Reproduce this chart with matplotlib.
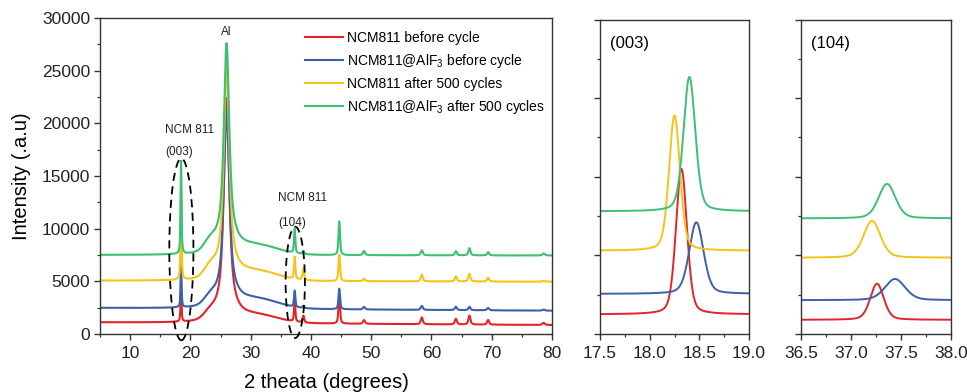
import numpy as np
import matplotlib
matplotlib.use("Agg")
import matplotlib.pyplot as plt
from matplotlib.patches import Ellipse
from matplotlib.ticker import MultipleLocator, NullFormatter

plt.rcParams['font.family'] = ['Liberation Sans', 'DejaVu Sans']
plt.rcParams['mathtext.fontset'] = 'custom'
plt.rcParams['mathtext.rm'] = 'Liberation Sans'
plt.rcParams['mathtext.it'] = 'Liberation Sans:italic'

# ---------------- data ----------------
labels = ["NCM811 before cycle", "NCM811@AlF$_3$ before cycle",
          "NCM811 after 500 cycles", "NCM811@AlF$_3$ after 500 cycles"]
colors = ["#e3242b", "#3b62a8", "#f5c41a", "#3cc073"]

# baseline level at 2theta = 5 and at 2theta = 80
base_left = [1100, 2470, 5060, 7500]
base_right = [850, 2210, 4960, 7450]

# Al current-collector peak near 26 deg (components)
al_center = 26.0
al_narrow = [17800, 15300, 16800, 16500]
al_medium = [3300, 3300, 3300, 3300]
al_hump = [700, 850, 850, 850]
al_shoulder = [650, 750, 950, 950]

# sharp NCM peaks
peak_pos = [18.45, 37.3, 38.75, 44.7, 48.8, 58.4, 64.05, 66.3, 69.4, 78.6]
peak_fwhm = [0.2, 0.25, 0.3, 0.3, 0.4, 0.4, 0.4, 0.4, 0.4, 0.5]
peak_red = [3000, 2000, 650, 2700, 350, 650, 530, 850, 440, 200]
peak_blue = [4000, 1550, 200, 1950, 250, 380, 320, 320, 230, 100]
peak_yellow = [8500, 2100, 1100, 2500, 250, 640, 480, 730, 380, 100]
peak_green = [8850, 2300, 300, 3200, 400, 470, 400, 690, 310, 190]
peak_heights = [peak_red, peak_blue, peak_yellow, peak_green]

# zoomed (003) peak, arbitrary units
z003_center = [18.32, 18.47, 18.25, 18.40]
z003_base = [0.25, 0.51, 1.06, 1.56]
z003_height = [1.85, 0.91, 1.72, 1.71]
z003_fwhm = [0.13, 0.17, 0.13, 0.14]

# zoomed (104) peak, arbitrary units
z104_center = [37.26, 37.44, 37.21, 37.36]
z104_base = [0.18, 0.43, 0.97, 1.47]
z104_height = [0.46, 0.27, 0.47, 0.44]
z104_fwhm = [0.16, 0.24, 0.2, 0.2]


def lor(x, c, w):
    return 1.0 / (1.0 + ((x - c) / (w / 2.0)) ** 2)


def gau(x, c, w):
    return np.exp(-4 * np.log(2) * ((x - c) / w) ** 2)


def pv(x, c, w, eta=0.5):
    return eta * lor(x, c, w) + (1 - eta) * gau(x, c, w)


def main_curve(x, i):
    y = base_left[i] + (base_right[i] - base_left[i]) * (x - 5) / 75.0
    y = y + al_narrow[i] * pv(x, al_center, 1.0, 0.7)
    y = y + al_medium[i] * lor(x, al_center, 2.4)
    y = y + al_hump[i] * np.exp(-(x - 31.0) ** 2 / (2 * 3.5 ** 2))
    y = y + al_shoulder[i] * np.exp(-(x - 23.3) ** 2 / 2.0)
    for p, w, h in zip(peak_pos, peak_fwhm, peak_heights[i]):
        y = y + h * pv(x, p, w, 0.6)
    return y


W, H = 967, 392
fig = plt.figure(figsize=(W / 100, H / 100), dpi=100)

ax = fig.add_axes([100 / W, 1 - 334 / H, 452 / W, 316 / H])
ax2 = fig.add_axes([600 / W, 1 - 334 / H, 149 / W, 314.5 / H])
ax3 = fig.add_axes([801 / W, 1 - 334 / H, 150 / W, 314.5 / H])

x = np.linspace(5, 80, 4001)
for i in range(4):
    ax.plot(x, main_curve(x, i), color=colors[i], lw=1.5, label=labels[i])

ax.set_xlim(5, 80)
ax.set_ylim(0, 30000)
ax.xaxis.set_major_locator(MultipleLocator(10))
ax.xaxis.set_minor_locator(MultipleLocator(5))
ax.yaxis.set_major_locator(MultipleLocator(5000))
ax.yaxis.set_minor_locator(MultipleLocator(2500))
ax.set_xlabel("2 theata (degrees)", fontsize=14.5, labelpad=8)
ax.set_ylabel("Intensity (.a.u)", fontsize=14.5, labelpad=8)

ax.text(26.0, 28700, "Al", ha='center', va='center', fontsize=8.5, color='#222222')
ax.text(15.8, 19360, "NCM 811", ha='left', va='center', fontsize=8.5, color='#222222')
ax.text(15.8, 17270, "(003)", ha='left', va='center', fontsize=8.5, color='#222222')
ax.text(34.5, 12880, "NCM 811", ha='left', va='center', fontsize=8.5, color='#222222')
ax.text(34.5, 10560, "(104)", ha='left', va='center', fontsize=8.5, color='#222222')

ax.add_patch(Ellipse((18.5, 8035), 4.0, 17270, fill=False, ls=(0, (4.5, 3)),
                     lw=1.3, color='black', clip_on=False, zorder=5))
ax.add_patch(Ellipse((37.4, 4900), 3.2, 10560, fill=False, ls=(0, (4.5, 3)),
                     lw=1.3, color='black', clip_on=False, zorder=5))

leg = ax.legend(loc='upper left', bbox_to_anchor=(0.4535, 0.958), frameon=False,
                fontsize=10, handlelength=2.75, handletextpad=0.25,
                labelspacing=0.5, borderpad=0, borderaxespad=0)

x2 = np.linspace(17.5, 19.0, 600)
for i in range(4):
    y2 = z003_base[i] + z003_height[i] * pv(x2, z003_center[i], z003_fwhm[i], 0.3)
    ax2.plot(x2, y2, color=colors[i], lw=1.4)
ax2.set_xlim(17.5, 19.0)
ax2.set_ylim(0, 4)
ax2.xaxis.set_major_locator(MultipleLocator(0.5))
ax2.xaxis.set_minor_locator(MultipleLocator(0.25))
ax2.text(0.07, 0.923, "(003)", transform=ax2.transAxes, fontsize=12, va='center', ha='left')

x3 = np.linspace(36.5, 38.0, 600)
for i in range(4):
    y3 = z104_base[i] + z104_height[i] * pv(x3, z104_center[i], z104_fwhm[i], 0.3)
    ax3.plot(x3, y3, color=colors[i], lw=1.4)
ax3.set_xlim(36.5, 38.0)
ax3.set_ylim(0, 4)
ax3.xaxis.set_major_locator(MultipleLocator(0.5))
ax3.xaxis.set_minor_locator(MultipleLocator(0.25))
ax3.text(0.07, 0.923, "(104)", transform=ax3.transAxes, fontsize=12, va='center', ha='left')

for a in (ax2, ax3):
    a.yaxis.set_major_locator(MultipleLocator(1))
    a.yaxis.set_minor_locator(MultipleLocator(0.5))
    a.yaxis.set_major_formatter(NullFormatter())
    a.xaxis.set_major_formatter(matplotlib.ticker.FormatStrFormatter('%.1f'))

for a in (ax, ax2, ax3):
    for s in a.spines.values():
        s.set_color('#333333')
        s.set_linewidth(1.0)
    a.tick_params(which='major', direction='out', length=4, width=1.0,
                  labelsize=12.5, pad=3, colors='#333333', labelcolor='#222222')
    a.tick_params(which='minor', direction='out', length=2.5, width=0.9, colors='#333333')
    a.tick_params(axis='x', which='major', pad=5)

fig.savefig("out.png", dpi=100)
